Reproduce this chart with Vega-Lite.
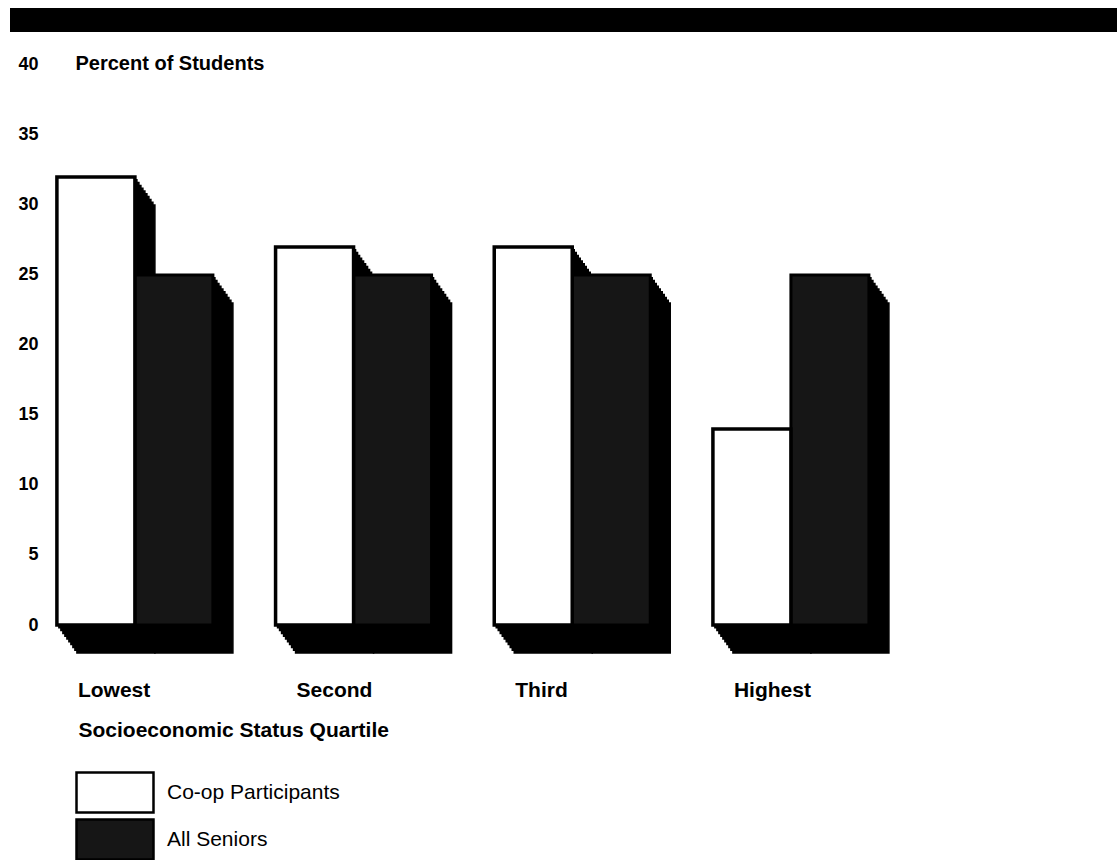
{
  "$schema": "https://vega.github.io/schema/vega-lite/v6.json",
  "width": 1107,
  "height": 617,
  "autosize": {"type": "none"},
  "padding": {"left": 10, "top": 8, "right": 3, "bottom": 235},
  "background": "white",
  "config": {"view": {"stroke": null}, "font": "Liberation Sans"},
  "datasets": {
    "bars": [
      {"quartile": "Lowest", "group": "Co-op Participants", "percent": 32},
      {"quartile": "Lowest", "group": "All Seniors", "percent": 25},
      {"quartile": "Second", "group": "Co-op Participants", "percent": 27},
      {"quartile": "Second", "group": "All Seniors", "percent": 25},
      {"quartile": "Third", "group": "Co-op Participants", "percent": 27},
      {"quartile": "Third", "group": "All Seniors", "percent": 25},
      {"quartile": "Highest", "group": "Co-op Participants", "percent": 14},
      {"quartile": "Highest", "group": "All Seniors", "percent": 25}
    ],
    "header": [{"element": "header band"}]
  },
  "layer": [
    {
      "data": {"name": "header"},
      "mark": {"type": "rect", "color": "black"},
      "encoding": {
        "y": {"datum": 44.07, "type": "quantitative", "title": "Percent of Students"},
        "y2": {"datum": 42.36}
      }
    },
    {
      "data": {"name": "bars"},
      "encoding": {
        "x": {
          "field": "quartile", "type": "nominal",
          "sort": ["Lowest", "Second", "Third", "Highest"],
          "scale": {"paddingInner": 0.2866, "paddingOuter": 0.6745, "align": 0.159},
          "axis": {
            "title": "Socioeconomic Status Quartile",
            "titleFont": "Liberation Sans", "titleFontSize": 21, "titleFontWeight": "bold", "titleColor": "black",
            "titleAnchor": "start", "titleAlign": "left", "titleBaseline": "middle", "titleX": 68, "titleY": 105,
            "labelFont": "Liberation Sans", "labelFontSize": 21, "labelFontWeight": "bold", "labelColor": "black",
            "labelAlign": "left", "labelBaseline": "middle", "labelOffset": -57, "labelPadding": 65, "labelAngle": 0,
            "ticks": false, "tickSize": 0, "domain": false, "grid": false
          }
        },
        "y": {
          "field": "percent", "type": "quantitative",
          "scale": {"domain": [0, 44.07], "nice": false, "zero": true},
          "axis": {
            "values": [0, 5, 10, 15, 20, 25, 30, 35, 40],
            "title": "Percent of Students",
            "titleFont": "Liberation Sans", "titleFontSize": 20, "titleFontWeight": "bold", "titleColor": "black",
            "titleAngle": 0, "titleAlign": "left", "titleBaseline": "middle", "titleX": 37, "titleY": 55,
            "labelFont": "Liberation Sans", "labelFontSize": 18, "labelFontWeight": "bold", "labelColor": "black",
            "labelAlign": "right", "labelPadding": 0, "offset": -28,
            "ticks": false, "tickSize": 0, "domain": false, "grid": false
          }
        }
      },
      "layer": [
        {
          "transform": [{"filter": "datum.group === 'Co-op Participants'"}],
          "layer": [
            {"mark": {"type": "bar", "color": "black", "stroke": "black", "strokeWidth": 1.5, "width": {"band": 0.5}, "xOffset": -37, "yOffset": 2.8, "y2Offset": 3.7}},
            {"mark": {"type": "bar", "color": "black", "stroke": "black", "strokeWidth": 1.5, "width": {"band": 0.5}, "xOffset": -35, "yOffset": 5.6, "y2Offset": 7.4}},
            {"mark": {"type": "bar", "color": "black", "stroke": "black", "strokeWidth": 1.5, "width": {"band": 0.5}, "xOffset": -33, "yOffset": 8.4, "y2Offset": 11.1}},
            {"mark": {"type": "bar", "color": "black", "stroke": "black", "strokeWidth": 1.5, "width": {"band": 0.5}, "xOffset": -31, "yOffset": 11.2, "y2Offset": 14.8}},
            {"mark": {"type": "bar", "color": "black", "stroke": "black", "strokeWidth": 1.5, "width": {"band": 0.5}, "xOffset": -29, "yOffset": 14, "y2Offset": 18.5}},
            {"mark": {"type": "bar", "color": "black", "stroke": "black", "strokeWidth": 1.5, "width": {"band": 0.5}, "xOffset": -27, "yOffset": 16.8, "y2Offset": 22.2}},
            {"mark": {"type": "bar", "color": "black", "stroke": "black", "strokeWidth": 1.5, "width": {"band": 0.5}, "xOffset": -25, "yOffset": 19.6, "y2Offset": 25.9}},
            {"mark": {"type": "bar", "color": "black", "stroke": "black", "strokeWidth": 1.5, "width": {"band": 0.5}, "xOffset": -23, "yOffset": 22.4, "y2Offset": 29.6}},
            {"mark": {"type": "bar", "color": "black", "stroke": "black", "strokeWidth": 1.5, "width": {"band": 0.5}, "xOffset": -21, "yOffset": 25.2, "y2Offset": 33.3}},
            {"mark": {"type": "bar", "color": "black", "stroke": "black", "strokeWidth": 1.5, "width": {"band": 0.5}, "xOffset": -19, "yOffset": 28, "y2Offset": 37}}
          ]
        },
        {
          "transform": [{"filter": "datum.group === 'All Seniors'"}],
          "layer": [
            {"mark": {"type": "bar", "color": "black", "stroke": "black", "strokeWidth": 1.5, "width": {"band": 0.5}, "xOffset": 41, "yOffset": 2.8, "y2Offset": 3.7}},
            {"mark": {"type": "bar", "color": "black", "stroke": "black", "strokeWidth": 1.5, "width": {"band": 0.5}, "xOffset": 43, "yOffset": 5.6, "y2Offset": 7.4}},
            {"mark": {"type": "bar", "color": "black", "stroke": "black", "strokeWidth": 1.5, "width": {"band": 0.5}, "xOffset": 45, "yOffset": 8.4, "y2Offset": 11.1}},
            {"mark": {"type": "bar", "color": "black", "stroke": "black", "strokeWidth": 1.5, "width": {"band": 0.5}, "xOffset": 47, "yOffset": 11.2, "y2Offset": 14.8}},
            {"mark": {"type": "bar", "color": "black", "stroke": "black", "strokeWidth": 1.5, "width": {"band": 0.5}, "xOffset": 49, "yOffset": 14, "y2Offset": 18.5}},
            {"mark": {"type": "bar", "color": "black", "stroke": "black", "strokeWidth": 1.5, "width": {"band": 0.5}, "xOffset": 51, "yOffset": 16.8, "y2Offset": 22.2}},
            {"mark": {"type": "bar", "color": "black", "stroke": "black", "strokeWidth": 1.5, "width": {"band": 0.5}, "xOffset": 53, "yOffset": 19.6, "y2Offset": 25.9}},
            {"mark": {"type": "bar", "color": "black", "stroke": "black", "strokeWidth": 1.5, "width": {"band": 0.5}, "xOffset": 55, "yOffset": 22.4, "y2Offset": 29.6}},
            {"mark": {"type": "bar", "color": "black", "stroke": "black", "strokeWidth": 1.5, "width": {"band": 0.5}, "xOffset": 57, "yOffset": 25.2, "y2Offset": 33.3}},
            {"mark": {"type": "bar", "color": "black", "stroke": "black", "strokeWidth": 1.5, "width": {"band": 0.5}, "xOffset": 59, "yOffset": 28, "y2Offset": 37}},
            {
              "mark": {"type": "bar", "stroke": "black", "strokeWidth": 3, "width": {"band": 0.5}, "xOffset": 39},
              "encoding": {"color": {"field": "group", "type": "nominal"}}
            }
          ]
        },
        {
          "transform": [{"filter": "datum.group === 'Co-op Participants'"}],
          "mark": {"type": "bar", "stroke": "black", "strokeWidth": 3.5, "width": {"band": 0.5}, "xOffset": -39},
          "encoding": {
            "color": {
              "field": "group", "type": "nominal",
              "scale": {"domain": ["Co-op Participants", "All Seniors"], "range": ["#ffffff", "#161616"]},
              "legend": {
                "orient": "none", "legendX": 84, "legendY": 763.5, "title": null, "padding": 0,
                "symbolType": "M-1.974,-1.026H1.974V1.026H-1.974Z", "symbolSize": 1521,
                "symbolStrokeColor": "black", "symbolStrokeWidth": 2.5, "symbolOpacity": 1,
                "labelFont": "Liberation Sans", "labelFontSize": 21, "labelColor": "black", "labelOffset": 31,
                "labelLimit": 400, "rowPadding": -6
              }
            }
          }
        }
      ]
    }
  ]
}
